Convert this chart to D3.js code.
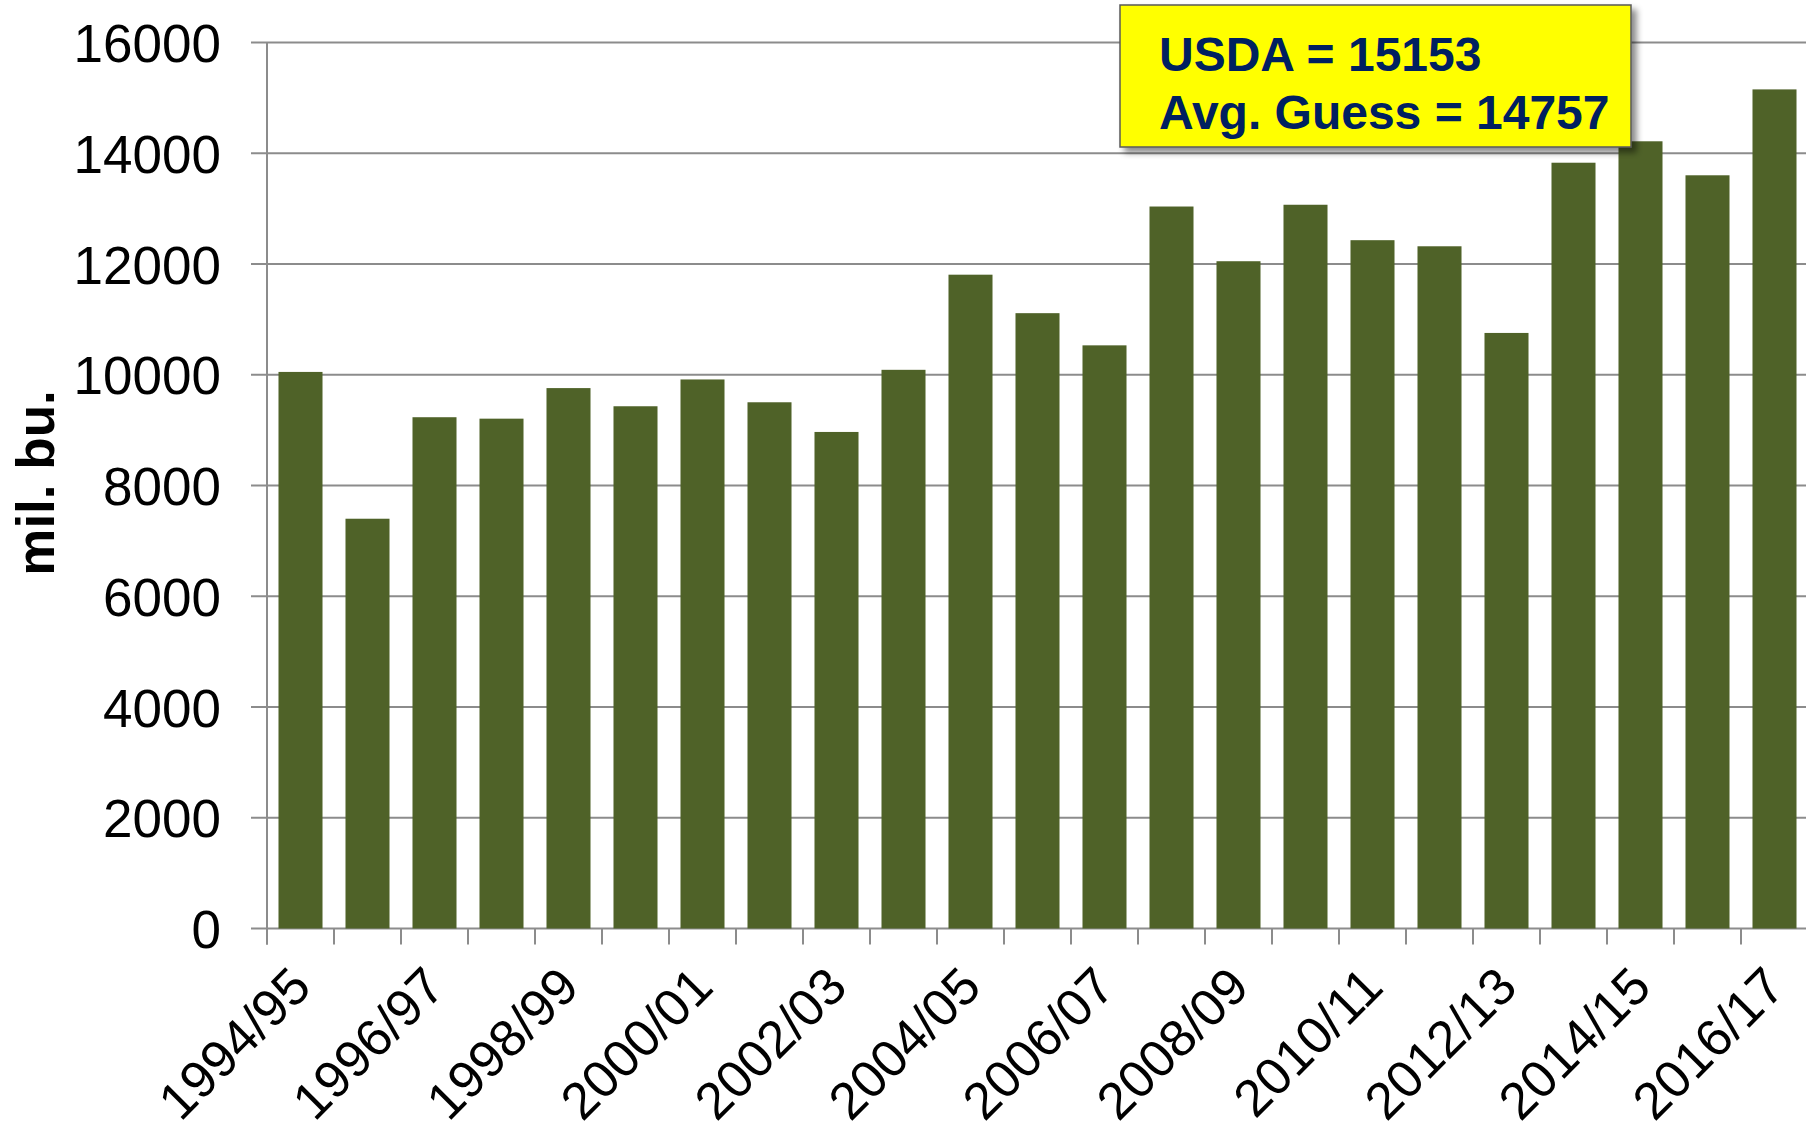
<!DOCTYPE html>
<html>
<head>
<meta charset="utf-8">
<script src="https://cdn.jsdelivr.net/npm/d3@7"></script>
<style>
  html, body { margin: 0; padding: 0; background: #fff; }
  svg { display: block; font-family: "Liberation Sans", Arial, sans-serif; }
</style>
</head>
<body>
<div id="chart"></div>
<script>
// crop years and production (mil. bu.)
let seasons = ["1994/95", "1995/96", "1996/97", "1997/98", "1998/99", "1999/00",
    "2000/01", "2001/02", "2002/03", "2003/04", "2004/05", "2005/06", "2006/07",
    "2007/08", "2008/09", "2009/10", "2010/11", "2011/12", "2012/13", "2013/14",
    "2014/15", "2015/16", "2016/17"];
let production = [10051, 7400, 9233, 9207, 9759, 9431, 9915, 9503, 8967, 10089,
    11807, 11112, 10531, 13038, 12050, 13070, 12430, 12320, 10755, 13829,
    14216, 13602, 15153];
let yTicks = [0, 2000, 4000, 6000, 8000, 10000, 12000, 14000, 16000];
let noteLines = ["USDA = 15153", "Avg. Guess = 14757"];

let width = 1806, height = 1135;
let plotLeft = 267, plotRight = 1808, plotTop = 42.5, plotBottom = 928.5;

var svg = d3.select("#chart")
    .append("svg")
    .attr("width", width)
    .attr("height", height);

var defs = svg.append("defs");
defs.append("filter")
    .attr("id", "shadow")
    .attr("x", "-10%").attr("y", "-10%")
    .attr("width", "130%").attr("height", "140%")
    .append("feDropShadow")
    .attr("dx", 5).attr("dy", 5)
    .attr("stdDeviation", 3)
    .attr("flood-color", "#000")
    .attr("flood-opacity", 0.45);

var x = d3.scaleBand()
    .domain(seasons)
    .range([plotLeft, plotRight])
    .paddingInner(0.343)
    .paddingOuter(0.1715);

var y = d3.scaleLinear()
    .domain([0, 16000])
    .range([plotBottom, plotTop]);

let step = x.step();
let gridColor = "#8c8c8c";

// gridlines (with the short outer tick on the left)
svg.append("g")
    .selectAll("line")
    .data(yTicks)
    .enter()
    .append("line")
    .attr("x1", plotLeft - 16)
    .attr("x2", plotRight)
    .attr("y1", d => y(d))
    .attr("y2", d => y(d))
    .attr("stroke", gridColor)
    .attr("stroke-width", 2);

// y axis labels
let yAxis = d3.axisLeft(y)
    .tickValues(yTicks)
    .tickSize(0)
    .tickPadding(0)
    .tickFormat(d3.format("d"));

let gy = svg.append("g")
    .attr("transform", `translate(${plotLeft - 46},0)`)
    .call(yAxis);
gy.select(".domain").remove();
gy.selectAll("text")
    .attr("font-size", 53)
    .attr("font-family", "Liberation Sans, Arial, sans-serif")
    .attr("fill", "#000")
    .attr("dy", "0.36em");

// category boundary ticks
svg.append("g")
    .selectAll("line")
    .data(seasons)
    .enter()
    .append("line")
    .attr("x1", d => x(d) - (step - x.bandwidth()) / 2)
    .attr("x2", d => x(d) - (step - x.bandwidth()) / 2)
    .attr("y1", plotBottom)
    .attr("y2", plotBottom + 16)
    .attr("stroke", gridColor)
    .attr("stroke-width", 2);

// y axis line
svg.append("line")
    .attr("x1", plotLeft).attr("x2", plotLeft)
    .attr("y1", plotTop).attr("y2", plotBottom + 16)
    .attr("stroke", gridColor)
    .attr("stroke-width", 2);

// bars
svg.append("g")
    .selectAll("rect")
    .data(seasons)
    .enter()
    .append("rect")
    .attr("x", d => x(d))
    .attr("width", x.bandwidth())
    .attr("y", (d, i) => y(production[i]))
    .attr("height", (d, i) => plotBottom - y(production[i]))
    .attr("fill", "#4f6228");

// x axis labels, every other season, rotated
let xAxis = d3.axisBottom(x)
    .tickValues(seasons.filter((d, i) => i % 2 == 0))
    .tickSize(0)
    .tickPadding(0);

let gx = svg.append("g")
    .attr("transform", `translate(0,${plotBottom})`)
    .call(xAxis);
gx.select(".domain").remove();
gx.selectAll("text")
    .attr("font-size", 52)
    .attr("font-family", "Liberation Sans, Arial, sans-serif")
    .attr("fill", "#000")
    .attr("dy", 0)
    .attr("y", 0)
    .style("text-anchor", "end")
    .attr("transform", "translate(13,61) rotate(-45)");

// y title
svg.append("text")
    .attr("transform", "translate(54,483) rotate(-90)")
    .style("text-anchor", "middle")
    .attr("font-size", 53)
    .attr("font-weight", "bold")
    .text("mil. bu.");

// annotation box
let note = svg.append("g");
note.append("rect")
    .attr("x", 1120)
    .attr("y", 5)
    .attr("width", 511)
    .attr("height", 142)
    .attr("fill", "#ffff00")
    .attr("stroke", "#595959")
    .attr("stroke-width", 1.5)
    .attr("filter", "url(#shadow)");

note.selectAll("text")
    .data(noteLines)
    .enter()
    .append("text")
    .attr("x", 1159)
    .attr("y", (d, i) => 71 + i * 57.5)
    .attr("font-size", 48)
    .attr("font-weight", "bold")
    .attr("fill", "#002060")
    .text(d => d);
</script>
</body>
</html>
